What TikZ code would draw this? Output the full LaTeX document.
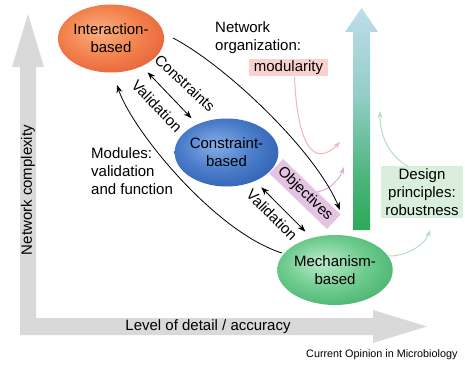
\documentclass[tikz,border=0pt]{standalone}
\usepackage{fontspec}
\setmainfont{Liberation Sans}
\usetikzlibrary{shapes.geometric,arrows.meta,calc}

% palette
\definecolor{axisgray}{HTML}{D9D9D9}
\definecolor{orA}{HTML}{F9B080}
\definecolor{orB}{HTML}{F2824E}
\definecolor{orC}{HTML}{E04A28}
\definecolor{blA}{HTML}{86AEE6}
\definecolor{blB}{HTML}{4A7CCA}
\definecolor{blC}{HTML}{1E4C9C}
\definecolor{grA}{HTML}{BCEBC9}
\definecolor{grB}{HTML}{6ECB8E}
\definecolor{grC}{HTML}{2CA258}
\definecolor{barA}{HTML}{10A03E}
\definecolor{barB}{HTML}{1EA247}
\definecolor{barC}{HTML}{48B478}
\definecolor{barD}{HTML}{92CDC6}
\definecolor{barE}{HTML}{BEDDEB}
\definecolor{barF}{HTML}{CCE6F2}
\definecolor{modfill}{HTML}{F9D2D0}
\definecolor{objfill}{HTML}{E3C4E3}
\definecolor{desfill}{HTML}{D9EEDC}
\definecolor{pinkline}{HTML}{F2B6B6}
\definecolor{purpline}{HTML}{D9AED9}
\definecolor{greenline}{HTML}{BADBC3}

% egg-shaped radial fills, highlight slightly up-left
\pgfdeclareradialshading{orangeegg}{\pgfpoint{-6bp}{6bp}}{color(0bp)=(orA); color(18bp)=(orB); color(42bp)=(orC); color(60bp)=(orC)}
\pgfdeclareradialshading{blueegg}{\pgfpoint{-6bp}{6bp}}{color(0bp)=(blA); color(18bp)=(blB); color(42bp)=(blC); color(60bp)=(blC)}
\pgfdeclareradialshading{greenegg}{\pgfpoint{-6bp}{6bp}}{color(0bp)=(grA); color(18bp)=(grB); color(42bp)=(grC); color(60bp)=(grC)}
% green-to-sky fade of the tall arrow (bottom to top)
\pgfdeclareverticalshading{risebar}{100bp}{color(0bp)=(barA); color(18bp)=(barB); color(36bp)=(barC); color(55bp)=(barD); color(75bp)=(barE); color(100bp)=(barF)}

\tikzset{
  txt/.style={font=\fontsize{15}{18}\selectfont, inner sep=0pt},
  egg/.style={ellipse, txt, align=center, minimum width=99pt, minimum height=68pt, outer sep=0pt},
  tag/.style={txt, inner xsep=5pt, inner ysep=2pt},
  conn/.style={line width=0.8pt, black},
  dbl/.style={conn, {Stealth[length=8pt,width=6pt]}-{Stealth[length=8pt,width=6pt]}},
  single/.style={conn, -{Stealth[length=8pt,width=6pt]}},
  pastel/.style={line width=1pt, -{Stealth[length=7pt,width=5pt]}},
}

\begin{document}
\begin{tikzpicture}[x=1pt,y=-1pt]
\useasboundingbox (0,0) rectangle (465,366);

% gray axes
\fill[axisgray] (20,335) -- (20,67) -- (12,67) -- (28,14) -- (44,67) -- (36,67)
  -- (36,318) -- (373,318) -- (373,310) -- (427,326.5) -- (373,343) -- (373,335) -- cycle;
\node[txt, rotate=90] (ylab) at (28,190) {Network complexity};
\node[txt] (xlab) at (208,327) {Level of detail / accuracy};

% tall fading arrow
\shade[shading=risebar] (353,230) -- (353,32) -- (345,32) -- (361.5,8) -- (378,32)
  -- (370,32) -- (370,230) -- cycle;

% tagged boxes
\node[tag, fill=modfill] (mod) at (288.5,67.5) {modularity};
\node[tag, fill=objfill, rotate=-44, minimum width=78pt, minimum height=20pt] (obj) at (305,194) {Objectives};
\node[tag, fill=desfill, align=center, inner xsep=4pt, minimum width=80pt, minimum height=50pt] (des) at (422,192)
  {Design\\principles:\\robustness};

% model classes
\node[egg, shading=orangeegg] (int) at (111,38.5) {Interaction-\\based};
\node[egg, shading=blueegg] (con) at (226.5,152.5) {Constraint-\\based};
\node[egg, shading=greenegg, minimum height=70pt] (mech) at (335,270) {Mechanism-\\based};

% pastel feedback arrows
\coordinate (pinkEnd) at (340,142);
\coordinate (purpEnd) at (344,167);
\coordinate (greenUp) at (380,111);
\coordinate (greenLow) at (430,230);
\draw[pastel, pinkline] ([xshift=6pt]mod.south) .. controls (297,140) and (312,170) .. (pinkEnd);
\draw[pastel, purpline] (obj.54) .. controls (330,190) and (340,178) .. (purpEnd);
\draw[pastel, greenline] ([xshift=-14pt]des.north) .. controls (388,155) and (380,135) .. (greenUp);
\draw[pastel, greenline] (mech.15) .. controls (405,257) and (425,245) .. (greenLow);

% black connectors
\draw[dbl, shorten <=8.5pt, shorten >=8.5pt] (int.-42) -- (con.136);
\draw[dbl, shorten <=9pt, shorten >=9pt] (con.-45) -- (mech.126);
\coordinate (netS) at (173,38);
\coordinate (netE) at (340,210);
\draw[single] (netS) .. controls (225,65) and (315,150) .. (netE);
\coordinate (modS) at (282,253);
\coordinate (modE) at (117,85);
\draw[single] (modS) .. controls (215,232) and (132,130) .. (modE);

% labels
\node[txt, rotate=-43] (lcons) at (185,83) {Constraints};
\node[txt, rotate=-46] (lval1) at (157,106) {Validation};
\node[txt, rotate=-45] (lval2) at (272,215) {Validation};
\node[txt, anchor=west, align=left] (lnet) at (215,38) {Network\\organization:};
\node[txt, anchor=west, align=left] (lmod) at (91,171) {Modules:\\validation\\and function};
\node[font=\fontsize{10.8}{13}\selectfont, inner sep=0pt, anchor=west] (credit) at (306,355) {Current Opinion in Microbiology};
\end{tikzpicture}
\end{document}
